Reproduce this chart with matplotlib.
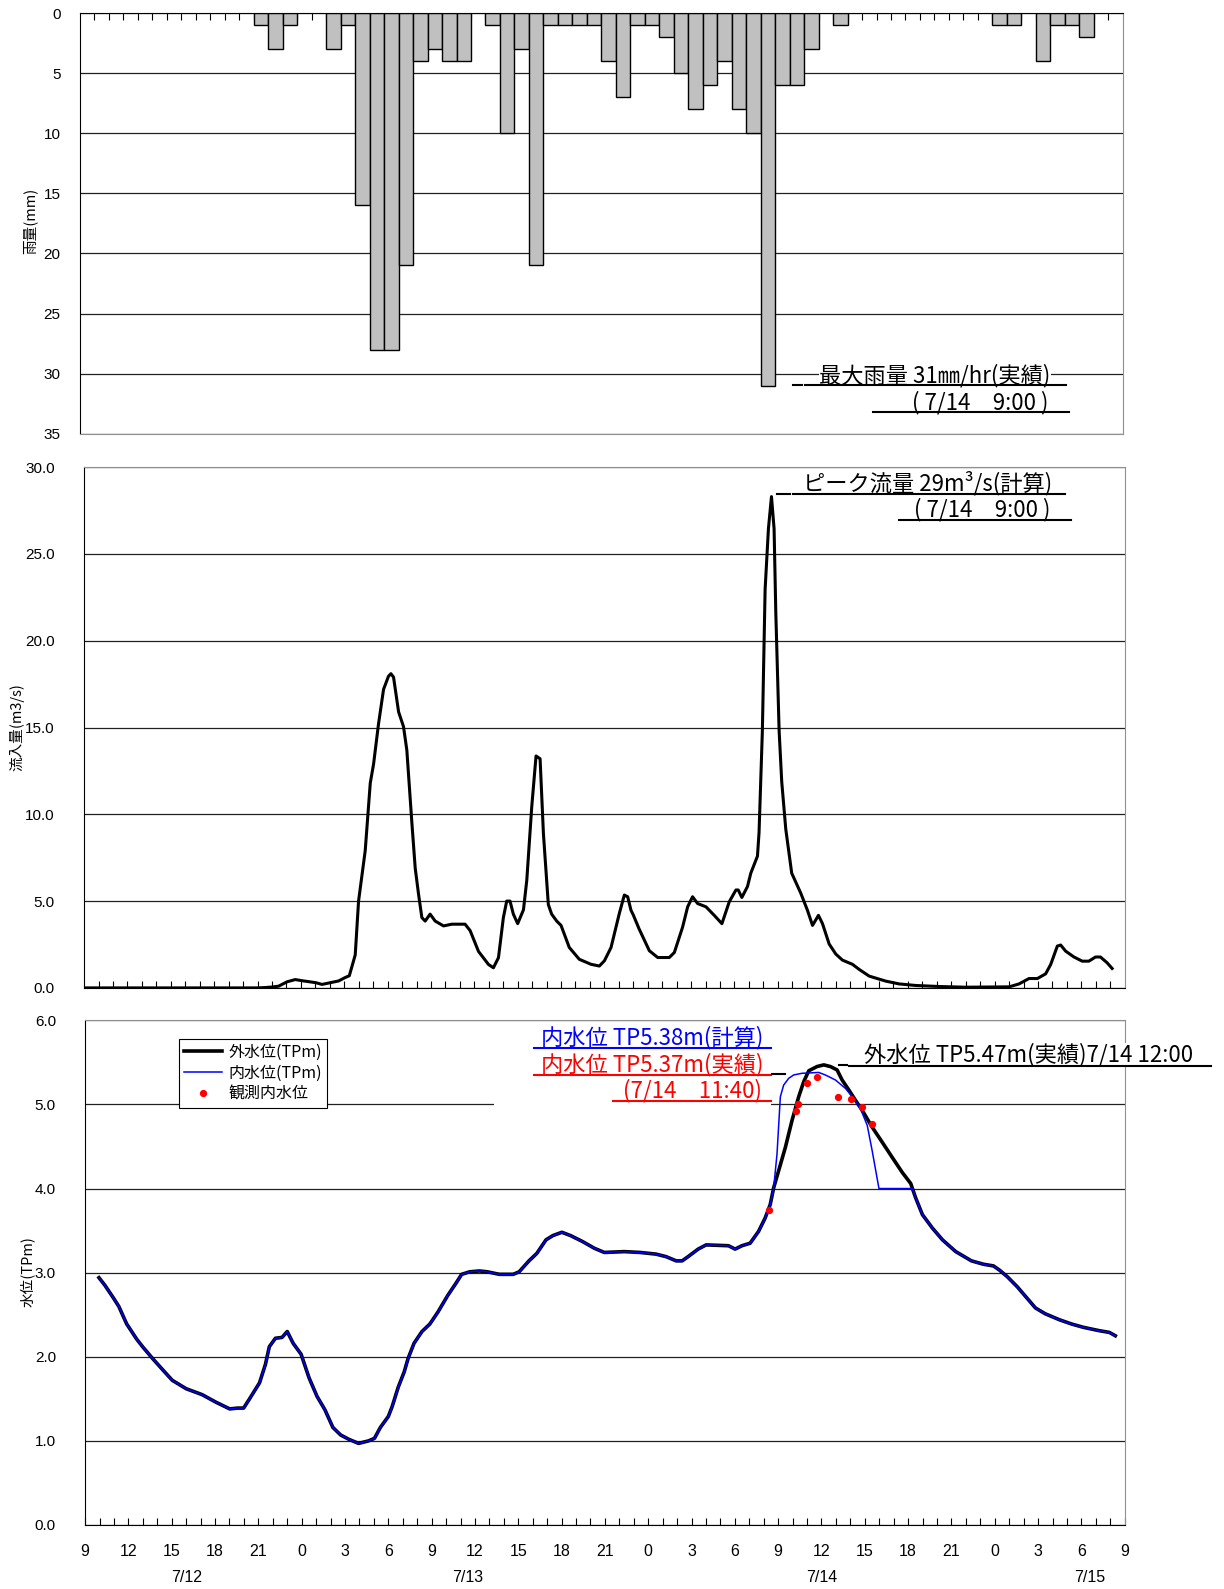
import matplotlib
matplotlib.use('Agg')
import matplotlib.pyplot as plt
from matplotlib.lines import Line2D
from matplotlib.patches import Rectangle

plt.rcParams['font.family'] = ['Noto Sans CJK JP', 'DejaVu Sans']

# ---------------- data (hours counted from 7/12 9:00) ----------------
rain_hour = [12, 13, 14, 17, 18, 19, 20, 21, 22, 23, 24, 25, 26,
             28, 29, 30, 31, 32, 33, 34, 35, 36, 37, 38, 39, 40, 41, 42, 43,
             44, 45, 46, 47, 48, 49, 50, 52, 63, 64, 66, 67, 68, 69]
rain_mm = [1, 3, 1, 3, 1, 16, 28, 28, 21, 4, 3, 4, 4,
           1, 10, 3, 21, 1, 1, 1, 1, 4, 7, 1, 1, 2, 5, 8, 6,
           4, 8, 10, 31, 6, 6, 3, 1, 1, 1, 4, 1, 1, 2]

flow_hour = [0, 12.0, 12.5, 13.0, 13.46, 14.04, 14.61, 15.03, 16.04, 16.46, 17.03,
             17.61, 18.07, 18.35, 18.76, 18.99, 19.45, 19.8, 20.03, 20.37, 20.72,
             21.06, 21.23, 21.41, 21.76, 22.1, 22.33, 22.68, 22.91, 23.14, 23.37,
             23.6, 23.94, 24.29, 24.87, 25.44, 26.36, 26.71, 27.29, 27.98, 28.32,
             28.67, 29.01, 29.24, 29.47, 29.7, 30.0, 30.4, 30.63, 30.97, 31.27,
             31.55, 31.78, 32.12, 32.35, 32.7, 33.0, 33.57, 34.26, 35.07, 35.65,
             36.0, 36.46, 37.03, 37.38, 37.61, 37.84, 38.0, 38.4, 39.11, 39.69,
             40.49, 40.84, 41.41, 41.76, 42.1, 42.45, 43.03, 43.6, 44.13, 44.64,
             45.1, 45.26, 45.51, 45.9, 46.13, 46.59, 46.7, 46.93, 47.12, 47.35,
             47.56, 47.74, 47.86, 48.09, 48.27, 48.55, 48.96, 49.59, 50.05, 50.4,
             50.81, 51.09, 51.55, 52.01, 52.47, 53.16, 53.62, 54.32, 55.47, 56.39,
             57.54, 59.16, 61.0, 64.0, 64.69, 65.38, 65.96, 66.53, 66.88, 67.34,
             67.57, 67.91, 68.49, 69.06, 69.52, 69.98, 70.32, 70.78, 71.13]
flow_m3s = [0, 0, 0.02, 0.05, 0.1, 0.35, 0.48, 0.42, 0.3, 0.2, 0.3,
            0.4, 0.6, 0.7, 1.9, 5.0, 7.9, 11.8, 12.9, 15.2, 17.2,
            17.95, 18.1, 17.9, 15.9, 15.05, 13.7, 9.5, 6.9, 5.4, 4.05,
            3.85, 4.25, 3.85, 3.57, 3.67, 3.67, 3.3, 2.1, 1.35, 1.16,
            1.74, 4.05, 5.0, 5.0, 4.25, 3.7, 4.5, 6.2, 10.4, 13.36,
            13.2, 8.9, 4.8, 4.25, 3.85, 3.6, 2.33, 1.65, 1.36, 1.26,
            1.56, 2.33, 4.28, 5.35, 5.25, 4.47, 4.2, 3.4, 2.14, 1.75,
            1.75, 2.04, 3.5, 4.67, 5.25, 4.86, 4.67, 4.18, 3.7, 4.96,
            5.64, 5.64, 5.21, 5.84, 6.61, 7.59, 8.95, 14.8, 22.96, 26.46,
            28.3, 26.46, 21.6, 14.8, 11.87, 9.14, 6.61, 5.45, 4.47, 3.6,
            4.18, 3.7, 2.53, 1.95, 1.6, 1.36, 1.07, 0.68, 0.39, 0.23,
            0.14, 0.08, 0.04, 0.06, 0.23, 0.54, 0.54, 0.81, 1.35, 2.41,
            2.47, 2.12, 1.78, 1.54, 1.54, 1.78, 1.78, 1.45, 1.12]

outer_hour = [0.96, 1.37, 1.92, 2.33, 2.88, 3.57, 3.98, 4.67, 5.35, 6.04, 7.0, 8.1,
              9.06, 10.02, 10.57, 10.98, 11.39, 12.08, 12.49, 12.76, 13.18, 13.64,
              14.0, 14.41, 14.96, 15.51, 16.06, 16.61, 17.16, 17.7, 18.25, 18.94,
              19.63, 20.04, 20.45, 21.0, 21.27, 21.69, 22.1, 22.37, 22.78, 23.33,
              23.88, 24.43, 25.12, 25.67, 26.08, 26.63, 27.31, 27.86, 28.69, 29.65,
              30.06, 30.74, 31.29, 31.92, 32.39, 33.02, 33.63, 34.45, 35.27, 35.96,
              37.34, 38.45, 39.55, 40.24, 40.94, 41.35, 41.76, 42.46, 43.01, 44.56,
              45.02, 45.49, 46.06, 46.64, 47.1, 47.45, 47.69, 48.03, 48.5, 48.96,
              49.42, 49.77, 50.12, 50.69, 51.16, 51.62, 52.08, 52.43, 52.9, 53.35,
              53.82, 54.51, 55.21, 55.9, 56.6, 57.18, 57.52, 57.99, 58.68, 59.38,
              60.3, 61.39, 62.22, 62.91, 63.33, 63.88, 64.57, 65.27, 65.82, 66.51,
              67.48, 68.31, 69.14, 70.24, 70.93, 71.35]
outer_tp = [2.94, 2.85, 2.71, 2.60, 2.39, 2.21, 2.12, 1.98, 1.85, 1.72, 1.62, 1.55,
            1.46, 1.38, 1.39, 1.39, 1.50, 1.69, 1.91, 2.12, 2.22, 2.23,
            2.30, 2.16, 2.03, 1.75, 1.53, 1.37, 1.16, 1.07, 1.02, 0.97,
            1.00, 1.03, 1.16, 1.29, 1.41, 1.64, 1.82, 1.98, 2.16, 2.30,
            2.39, 2.53, 2.73, 2.87, 2.98, 3.01, 3.02, 3.01, 2.98, 2.98,
            3.01, 3.14, 3.23, 3.39, 3.44, 3.48, 3.44, 3.37, 3.29, 3.24,
            3.25, 3.24, 3.22, 3.19, 3.14, 3.14, 3.19, 3.28, 3.33, 3.32,
            3.28, 3.32, 3.35, 3.49, 3.65, 3.81, 4.01, 4.21, 4.49, 4.81,
            5.09, 5.27, 5.40, 5.45, 5.47, 5.45, 5.41, 5.29, 5.17, 5.05,
            4.93, 4.73, 4.55, 4.37, 4.19, 4.06, 3.89, 3.69, 3.53, 3.39,
            3.25, 3.14, 3.10, 3.08, 3.03, 2.95, 2.83, 2.69, 2.58, 2.51,
            2.44, 2.39, 2.35, 2.31, 2.29, 2.25]

inner_peak_hour = [47.92, 48.15, 48.38, 48.73, 49.07, 49.65, 50.81, 51.27, 51.97,
                   52.66, 53.24, 53.7, 54.17, 54.51, 54.98, 57.3]
inner_peak_tp = [4.41, 5.09, 5.23, 5.31, 5.35, 5.37, 5.38, 5.35, 5.29,
                 5.19, 5.07, 4.95, 4.75, 4.45, 4.0, 4.0]

obs_hour = [47.38, 49.26, 49.35, 50.02, 50.67, 52.17, 53.06, 53.84, 54.53]
obs_tp = [3.74, 4.92, 5.00, 5.26, 5.33, 5.09, 5.06, 4.97, 4.77]

hour_labels = ['9', '12', '15', '18', '21', '0', '3', '6',
               '9', '12', '15', '18', '21', '0', '3', '6',
               '9', '12', '15', '18', '21', '0', '3', '6', '9']
date_labels = ['7/12', '7/13', '7/14', '7/15']
date_label_hour = [7.0, 26.5, 51.0, 69.6]

# inner water level = outer except during the peak
inner_hour = ([h for h in outer_hour if h <= 47.69] + inner_peak_hour
              + [h for h in outer_hour if h > 57.3])
inner_tp = ([v for h, v in zip(outer_hour, outer_tp) if h <= 47.69] + inner_peak_tp
            + [v for h, v in zip(outer_hour, outer_tp) if h > 57.3])

# ---------------- figure ----------------
W, H = 1224, 1589
fig = plt.figure(figsize=(W / 100, H / 100), dpi=100)


def fbox(l, t, r, b):
    return [l / W, 1 - b / H, (r - l) / W, (b - t) / H]


NUMFONT = 'Liberation Sans'
NUMSIZE = 11
GRID = dict(color='#202020', linewidth=0.9)

ax1 = fig.add_axes(fbox(80, 13.2, 1122.7, 433.7))
ax2 = fig.add_axes(fbox(84.1, 467.1, 1124.7, 987.9))
ax3 = fig.add_axes(fbox(85.1, 1020.3, 1124.7, 1525))

# --- rainfall ---
ax1.bar(rain_hour, rain_mm, width=1.0, align='edge', color='#C0C0C0',
        edgecolor='black', linewidth=1.0, zorder=2)
ax1.set_xlim(0, 72)
ax1.set_ylim(35, 0)
yt = list(range(0, 36, 5))
ax1.set_yticks(yt, [str(v) for v in yt], fontfamily=NUMFONT, fontsize=NUMSIZE)
ax1.yaxis.grid(True, **GRID)
ax1.set_axisbelow(True)
ax1.xaxis.tick_top()
ax1.set_xticks(range(1, 72))
ax1.tick_params(axis='x', direction='in', length=5, width=0.8,
                labeltop=False, labelbottom=False)
ax1.tick_params(axis='y', length=0, pad=14)
ax1.spines['left'].set_color('black')
ax1.spines['top'].set_color('black')
ax1.spines['right'].set_color('#909090')
ax1.spines['bottom'].set_color('#909090')

# --- inflow ---
ax2.plot(flow_hour, flow_m3s, color='black', lw=2.2, zorder=3)
ax2.set_xlim(0, 72)
ax2.set_ylim(0, 30)
yt = list(range(0, 31, 5))
ax2.set_yticks(yt, [f'{v:.1f}' for v in yt], fontfamily=NUMFONT, fontsize=NUMSIZE)
ax2.yaxis.grid(True, **GRID)
ax2.set_axisbelow(True)
ax2.set_xticks(range(1, 72))
ax2.tick_params(axis='x', direction='in', length=5, width=0.8, labelbottom=False)
ax2.tick_params(axis='y', length=0, pad=21)
ax2.spines['left'].set_color('black')
ax2.spines['bottom'].set_color('black')
ax2.spines['top'].set_color('#909090')
ax2.spines['right'].set_color('#909090')

# --- water level ---
ax3.plot(outer_hour, outer_tp, color='black', lw=2.6, zorder=3, label='外水位(TPm)')
ax3.plot(inner_hour, inner_tp, color='#0000FF', lw=1.1, zorder=4, label='内水位(TPm)')
ax3.plot(obs_hour, obs_tp, ls='none', marker='o', ms=4.2, color='red',
         zorder=5, label='観測内水位')
ax3.set_xlim(0, 72)
ax3.set_ylim(0, 6)
yt = list(range(0, 7))
ax3.set_yticks(yt, [f'{v:.1f}' for v in yt], fontfamily=NUMFONT, fontsize=NUMSIZE)
ax3.yaxis.grid(True, **GRID)
ax3.set_axisbelow(True)
ax3.set_xticks(range(0, 73, 3), hour_labels, fontfamily=NUMFONT, fontsize=11.5)
ax3.set_xticks(range(1, 72), minor=True)
ax3.tick_params(axis='x', which='both', direction='in', length=5, width=0.8, pad=14)
ax3.tick_params(axis='y', length=0, pad=21)
ax3.spines['left'].set_color('black')
ax3.spines['bottom'].set_color('black')
ax3.spines['top'].set_color('#909090')
ax3.spines['right'].set_color('#909090')
for lab, hh in zip(date_labels, date_label_hour):
    ax3.text(hh, -0.104, lab, transform=ax3.get_xaxis_transform(), ha='center',
             va='center', fontsize=11.5, fontfamily=NUMFONT)

leg = ax3.legend(loc='upper left', bbox_to_anchor=(0.0903, 0.963), frameon=True,
                 fancybox=False, edgecolor='black', fontsize=11.5, handlelength=2.4,
                 borderpad=0.3, labelspacing=0.25, handletextpad=0.4,
                 borderaxespad=0, numpoints=1, framealpha=1)
leg.get_frame().set_linewidth(0.8)

# axis titles
fig.text(30.4 / W, 1 - 221 / H, '雨量(mm)', rotation=90, ha='center', va='center', fontsize=10.5)
fig.text(17.2 / W, 1 - 727.5 / H, '流入量(m3/s)', rotation=90, ha='center', va='center', fontsize=10.5)
fig.text(27.4 / W, 1 - 1271.6 / H, '水位(TPm)', rotation=90, ha='center', va='center', fontsize=10.5)


# ---------------- annotations ----------------
def pline(x0, x1, y, color='black', lw=1.5):
    fig.add_artist(Line2D([x0 / W, x1 / W], [1 - y / H, 1 - y / H], color=color,
                          lw=lw, transform=fig.transFigure, zorder=4))


def ptext(x, y, s, ha='center', color='black', size=16):
    fig.text(x / W, 1 - y / H, s, ha=ha, va='center', color=color, fontsize=size,
             bbox=dict(facecolor='white', edgecolor='none', pad=0), zorder=3)


# top panel
ptext(935, 376, '最大雨量 31㎜/hr(実績)')
pline(793, 802, 385)
pline(805, 1066, 385)
ptext(980, 403, '( 7/14　9:00 )')
pline(873, 1069, 412)

# middle panel
ptext(928, 483, 'ピーク流量 29m³/s(計算)')
pline(777, 790, 494)
pline(793, 1065, 494)
ptext(982, 510, '( 7/14　9:00 )')
pline(899, 1071, 520)

# bottom panel
fig.add_artist(Rectangle((494 / W, 1 - 1110 / H), (771 - 494) / W, (1110 - 1028) / H,
                         transform=fig.transFigure, facecolor='white',
                         edgecolor='none', zorder=2))
ptext(652, 1038, '内水位 TP5.38m(計算)', color='#0000FF')
pline(534, 771, 1048, color='#0000FF')
ptext(652, 1065, '内水位 TP5.37m(実績)', color='red')
pline(534, 771, 1075, color='red')
ptext(692, 1091, '(7/14　11:40)', color='red')
pline(613, 771, 1101, color='red')
pline(772, 785, 1074)
ptext(1029, 1055, '外水位 TP5.47m(実績)7/14 12:00')
pline(839, 847, 1065)
pline(849, 1211, 1066)

fig.savefig('out.png', dpi=100, facecolor='white')
